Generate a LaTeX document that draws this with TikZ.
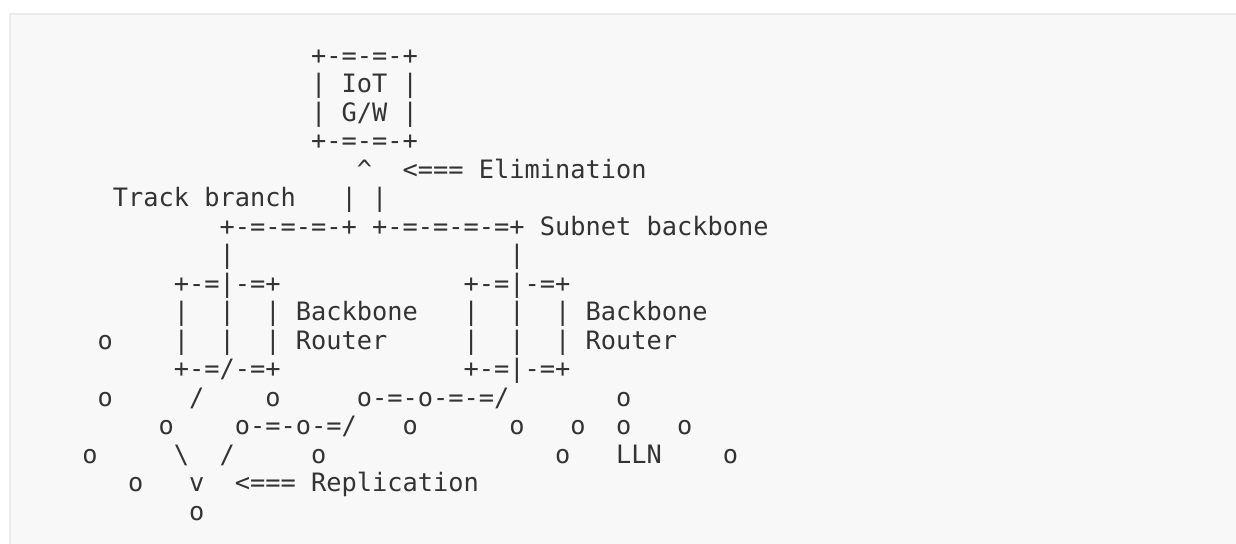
\documentclass[tikz,border=0pt]{standalone}
\usepackage{fontspec}
\setmonofont{DejaVu Sans Mono}
\definecolor{bgc}{HTML}{F8F8F8}
\definecolor{bdc}{HTML}{EBEBEB}
\definecolor{txc}{HTML}{333333}
\newcommand\chartok[4]{\node[tt] (#1) at ({82.4+15.25*#2},{64.5+28.5*(#3-1)}) {#4};}
\begin{document}
\begin{tikzpicture}[x=0.5pt,y=-0.5pt,
  tt/.style={anchor=base west, inner sep=0pt, outer sep=0pt, text=txc,
    font=\ttfamily\fontsize{12.665pt}{15pt}\selectfont}]
\useasboundingbox (0,0) rectangle (1236,544);
\fill[white] (0,0) rectangle (1236,544);
\fill[bgc] (10,14) rectangle (1236,544);
\draw[bdc, line width=1pt] (10,548) -- (10,14) -- (1240,14);
% row 1-4: IoT gateway
\chartok{gwtop}{15}{1}{+-=-=-+}
\chartok{gwl1}{15}{2}{|}
\chartok{iot}{17}{2}{IoT}
\chartok{gwr1}{21}{2}{|}
\chartok{gwl2}{15}{3}{|}
\chartok{gw}{17}{3}{G/W}
\chartok{gwr2}{21}{3}{|}
\chartok{gwbot}{15}{4}{+-=-=-+}
% row 5
\chartok{up}{18}{5}{\textasciicircum}
\chartok{elarr}{21}{5}{<===}
\chartok{elim}{26}{5}{Elimination}
% row 6
\chartok{track}{2}{6}{Track}
\chartok{branch}{8}{6}{branch}
\chartok{trl}{17}{6}{|}
\chartok{trr}{19}{6}{|}
% row 7
\chartok{bbl}{9}{7}{+-=-=-=-+}
\chartok{bbr}{19}{7}{+-=-=-=-=+}
\chartok{subnet}{30}{7}{Subnet}
\chartok{backbone}{37}{7}{backbone}
% row 8
\chartok{vl}{9}{8}{|}
\chartok{vr}{28}{8}{|}
% row 9
\chartok{brltop}{6}{9}{+-=|-=+}
\chartok{brrtop}{25}{9}{+-=|-=+}
% row 10
\chartok{a1}{6}{10}{|}
\chartok{a2}{9}{10}{|}
\chartok{a3}{12}{10}{|}
\chartok{bbtxtl}{14}{10}{Backbone}
\chartok{a4}{25}{10}{|}
\chartok{a5}{28}{10}{|}
\chartok{a6}{31}{10}{|}
\chartok{bbtxtr}{33}{10}{Backbone}
% row 11
\chartok{o11}{1}{11}{o}
\chartok{b1}{6}{11}{|}
\chartok{b2}{9}{11}{|}
\chartok{b3}{12}{11}{|}
\chartok{rtl}{14}{11}{Router}
\chartok{b4}{25}{11}{|}
\chartok{b5}{28}{11}{|}
\chartok{b6}{31}{11}{|}
\chartok{rtr}{33}{11}{Router}
% row 12
\chartok{brlbot}{6}{12}{+-=/-=+}
\chartok{brrbot}{25}{12}{+-=|-=+}
% row 13
\chartok{o13a}{1}{13}{o}
\chartok{s13}{7}{13}{/}
\chartok{o13b}{12}{13}{o}
\chartok{p13}{18}{13}{o-=-o-=-=/}
\chartok{o13c}{35}{13}{o}
% row 14
\chartok{o14a}{5}{14}{o}
\chartok{p14}{10}{14}{o-=-o-=/}
\chartok{o14b}{21}{14}{o}
\chartok{o14c}{28}{14}{o}
\chartok{o14d}{32}{14}{o}
\chartok{o14e}{35}{14}{o}
\chartok{o14f}{39}{14}{o}
% row 15
\chartok{o15a}{0}{15}{o}
\chartok{bs15}{6}{15}{\textbackslash}
\chartok{s15}{9}{15}{/}
\chartok{o15b}{15}{15}{o}
\chartok{o15c}{31}{15}{o}
\chartok{lln}{35}{15}{LLN}
\chartok{o15d}{42}{15}{o}
% row 16
\chartok{o16}{3}{16}{o}
\chartok{down}{7}{16}{v}
\chartok{reparr}{10}{16}{<===}
\chartok{repl}{15}{16}{Replication}
% row 17
\chartok{o17}{7}{17}{o}
\end{tikzpicture}
\end{document}
